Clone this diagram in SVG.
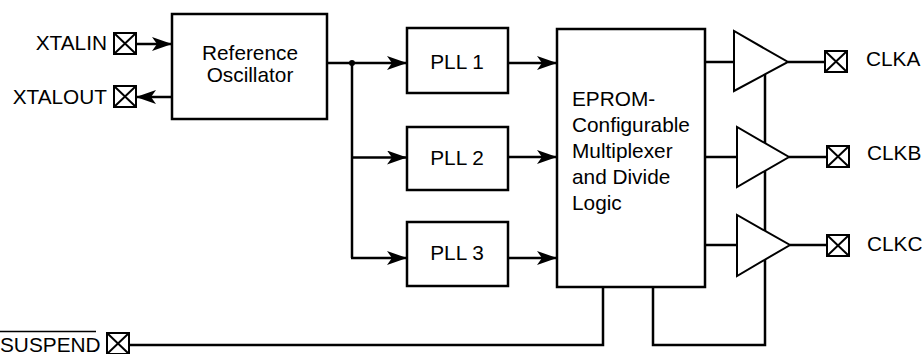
<svg xmlns="http://www.w3.org/2000/svg" xmlns:xlink="http://www.w3.org/1999/xlink" width="922" height="354" viewBox="0 0 922 354">
<style>
  .box { fill: #fff; stroke: #000; stroke-width: 2.5; }
  .buf { fill: #fff; stroke: #000; stroke-width: 2; stroke-linejoin: miter; }
  .ln { fill: none; stroke: #000; stroke-width: 2.5; }
  .arr { fill: none; stroke: #000; stroke-width: 2.6; marker-end: url(#ah); }
  .pad { fill: #fff; stroke: #000; stroke-width: 2; }
  text { font-family: "Liberation Sans", Arial, sans-serif; font-size: 20.8px; fill: #000; }
  .mid { text-anchor: middle; }
  .end { text-anchor: end; }
</style>
<defs>
  <marker id="ah" viewBox="0 0 20 14" refX="20" refY="7" markerWidth="20" markerHeight="14" markerUnits="userSpaceOnUse" orient="auto">
    <path d="M0,0 L20,7 L0,14 L5,7 Z" fill="#000"/>
  </marker>
  <g id="pad">
    <rect x="0" y="0" width="22" height="21" class="pad"/>
    <path d="M0,0 L22,21 M22,0 L0,21" stroke="#000" stroke-width="2" fill="none"/>
  </g>
</defs>
<rect width="922" height="354" fill="#fff"/>

<g id="connectors">
  <line class="arr" x1="136" y1="44" x2="172" y2="44"/>
  <line class="arr" x1="172" y1="97" x2="136" y2="97"/>
  <line class="arr" x1="327" y1="63" x2="407" y2="63"/>
  <polyline class="ln" points="352,63 352,258"/>
  <line class="arr" x1="351" y1="157.5" x2="407" y2="157.5"/>
  <line class="arr" x1="351" y1="258" x2="407" y2="258"/>
  <circle cx="352" cy="63" r="3" fill="#000"/>
  <line class="arr" x1="508" y1="63" x2="557" y2="63"/>
  <line class="arr" x1="508" y1="157" x2="557" y2="157"/>
  <line class="arr" x1="508" y1="258" x2="557" y2="258"/>
  <line class="ln" x1="705" y1="62" x2="735" y2="62"/>
  <line class="ln" x1="705" y1="157" x2="737" y2="157"/>
  <line class="ln" x1="705" y1="245" x2="737" y2="245"/>
  <line class="ln" x1="788" y1="62" x2="825" y2="62"/>
  <line class="ln" x1="789" y1="157" x2="827" y2="157"/>
  <line class="ln" x1="790" y1="245" x2="827" y2="245"/>
  <polyline class="ln" points="128,345 603,345 603,287"/>
  <polyline class="ln" points="653,287 653,345 765,345 765,74"/>
</g>

<g id="xtalin">
  <text class="end" x="107" y="49.5">XTALIN</text>
  <use xlink:href="#pad" x="114" y="33"/>
</g>
<g id="xtalout">
  <text class="end" x="107" y="104">XTALOUT</text>
  <use xlink:href="#pad" x="114" y="86"/>
</g>
<g id="refosc">
  <rect class="box" x="172" y="14" width="155" height="105"/>
  <text class="mid" x="250" y="60">Reference</text>
  <text class="mid" x="250" y="82">Oscillator</text>
</g>
<g id="pll1">
  <rect class="box" x="407" y="28" width="101" height="65"/>
  <text class="mid" x="457" y="69">PLL 1</text>
</g>
<g id="pll2">
  <rect class="box" x="407" y="127" width="101" height="63"/>
  <text class="mid" x="457" y="165">PLL 2</text>
</g>
<g id="pll3">
  <rect class="box" x="407" y="222" width="101" height="64"/>
  <text class="mid" x="457" y="260">PLL 3</text>
</g>
<g id="mux">
  <rect class="box" x="557" y="29" width="148" height="258"/>
  <text x="572" y="106">EPROM-</text>
  <text x="572" y="132">Configurable</text>
  <text x="572" y="158">Multiplexer</text>
  <text x="572" y="184">and Divide</text>
  <text x="572" y="210">Logic</text>
</g>
<g id="bufa">
  <polygon class="buf" points="734,31 734,91 788,62"/>
</g>
<g id="bufb">
  <polygon class="buf" points="737,127 737,187 789,157"/>
</g>
<g id="bufc">
  <polygon class="buf" points="737,215 737,276 790,245"/>
</g>
<g id="clka">
  <use xlink:href="#pad" x="825" y="51"/>
  <text x="866" y="66">CLKA</text>
</g>
<g id="clkb">
  <use xlink:href="#pad" x="827" y="146"/>
  <text x="867" y="160">CLKB</text>
</g>
<g id="clkc">
  <use xlink:href="#pad" x="827" y="235"/>
  <text x="867" y="251">CLKC</text>
</g>
<g id="suspend">
  <text x="0" y="351.5">SUSPEND</text>
  <line x1="0" y1="331.5" x2="96" y2="331.5" stroke="#000" stroke-width="1.5"/>
  <use xlink:href="#pad" x="107" y="333" width="21" height="20"/>
</g>
</svg>
